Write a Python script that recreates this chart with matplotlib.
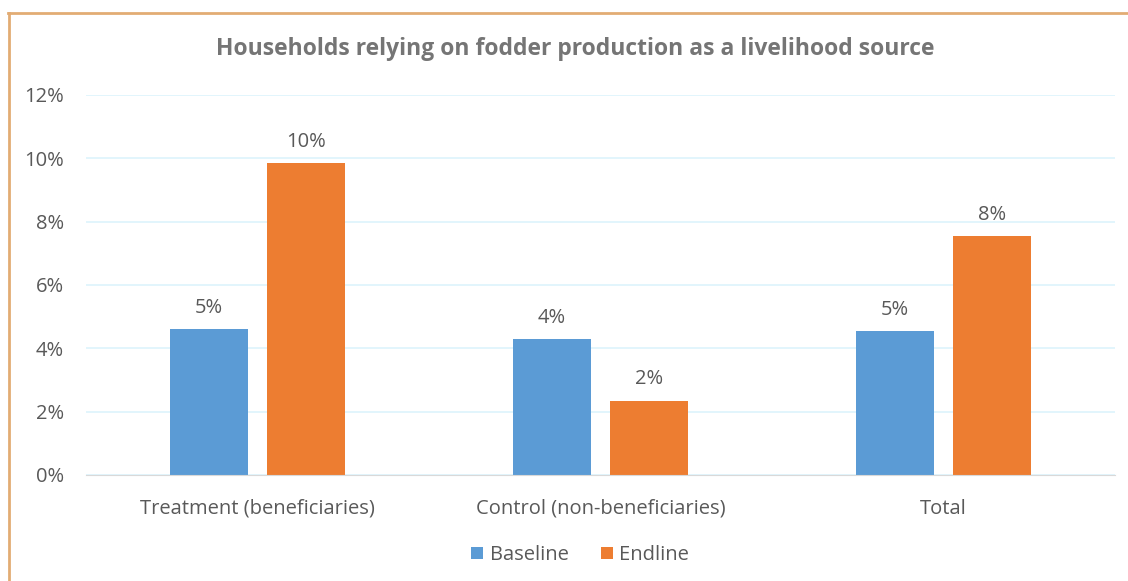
import matplotlib.pyplot as plt
import numpy as np
from matplotlib.lines import Line2D
from matplotlib.ticker import FuncFormatter

plt.rcParams["font.family"] = ["Open Sans", "DejaVu Sans"]

categories = ["Treatment (beneficiaries)", "Control (non-beneficiaries)", "Total"]
baseline = [4.6, 4.3, 4.55]
endline = [9.85, 2.35, 7.55]
series_names = ["Baseline", "Endline"]
colors = ["#5B9BD5", "#ED7D31"]
text_color = "#595959"

fig = plt.figure(figsize=(11.28, 5.81), dpi=100)
ax = fig.add_axes([86 / 1128, 1 - 475 / 581, (1115 - 86) / 1128, 380 / 581])

x = np.arange(len(categories))
width = 0.2245
offset = 0.1414
for vals, off, name, c in [(baseline, -offset, series_names[0], colors[0]),
                           (endline, offset, series_names[1], colors[1])]:
    bars = ax.bar(x + off, vals, width, color=c, label=name, zorder=3)
    for b, v in zip(bars, vals):
        ax.text(b.get_x() + b.get_width() / 2, v + 0.35, f"{v:.0f}%",
                ha="center", va="bottom", fontsize=14.5, color=text_color)

ax.set_xlim(-0.5, 2.5)
ax.set_ylim(0, 12)
ax.set_yticks(np.arange(0, 13, 2))
ax.yaxis.set_major_formatter(FuncFormatter(lambda v, _: f"{v:.0f}%"))
ax.set_xticks(x)
ax.set_xticklabels(categories)
ax.tick_params(axis="both", length=0, labelsize=14.5, labelcolor=text_color)
ax.tick_params(axis="x", pad=17)
ax.tick_params(axis="y", pad=16)
for lbl in ax.get_yticklabels():
    lbl.set_horizontalalignment("right")

ax.grid(axis="y", color="#DDF3FC", linewidth=1.2, zorder=0)
for s in ["top", "right", "left"]:
    ax.spines[s].set_visible(False)
ax.spines["bottom"].set_color("#D9D9D9")
ax.spines["bottom"].set_zorder(4)

fig.text(575 / 1128, 1 - 49 / 581, "Households relying on fodder production as a livelihood source",
         ha="center", va="center", fontsize=16.5, fontweight="bold", color="#757575")

fig.legend(loc="center", bbox_to_anchor=(580 / 1128, 1 - 555 / 581), ncol=2,
           frameon=False, fontsize=14.5, handlelength=0.6, handleheight=0.6,
           handletextpad=0.3, columnspacing=1.6, labelcolor=text_color)

# frame around the chart area
edge = "#E2AC74"
fig.add_artist(Line2D([8 / 1128, 1], [1 - 13 / 581] * 2, color=edge, linewidth=2))
fig.add_artist(Line2D([9 / 1128] * 2, [0, 1 - 13 / 581], color=edge, linewidth=2))

fig.savefig("out.png", dpi=100)
